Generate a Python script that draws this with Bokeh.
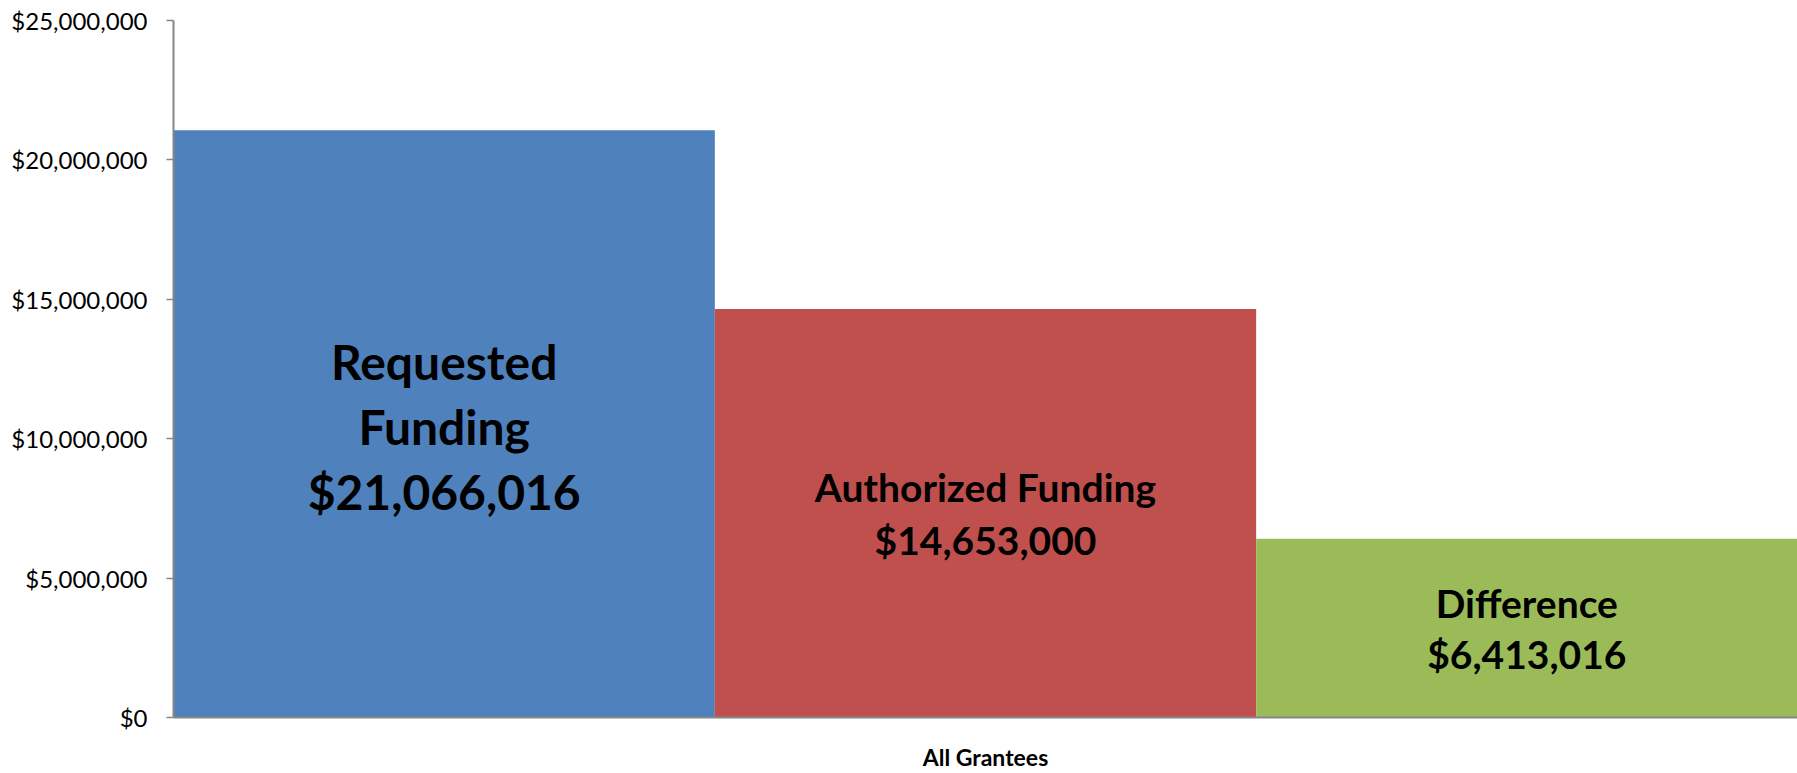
from bokeh.plotting import figure
from bokeh.models import Range1d, NumeralTickFormatter, FixedTicker, ColumnDataSource
from bokeh.core.properties import value
from bokeh.embed import file_html
from bokeh.resources import INLINE

# ---- data ----
categories = ["Requested Funding", "Authorized Funding", "Difference"]
amounts = [21066016, 14653000, 6413016]
label_lines = [["Requested", "Funding"], ["Authorized Funding"], ["Difference"]]
group_label = "All Grantees"
y_ticks = [0, 5000000, 10000000, 15000000, 20000000, 25000000]

# ---- style ----
colors = ["#4F81BD", "#C0504D", "#9BBB59"]
label_sizes = [48, 39, 39]
line_spacing = [65, 53, 51]
cap_half = [3, 0, 0]
FONT = "Lato"
AXIS_GRAY = "#868686"

n = len(amounts)
p = figure(width=1797, height=773, output_backend="svg", toolbar_location=None,
           x_range=Range1d(0, n), y_range=Range1d(0, y_ticks[-1]),
           min_border_left=173, min_border_right=0, min_border_top=20,
           min_border_bottom=55)

bars = ColumnDataSource(dict(left=list(range(n)), right=[i + 1 for i in range(n)],
                             top=amounts, bottom=[0] * n, color=colors))
p.quad(left="left", right="right", top="top", bottom="bottom", source=bars,
       fill_color="color", line_color=None)

xs, ys, texts, offs, sizes = [], [], [], [], []
for i, amt in enumerate(amounts):
    lines = label_lines[i] + ["${:,}".format(amt)]
    k = len(lines)
    for j, t in enumerate(lines):
        xs.append(i + 0.5)
        ys.append(amt / 2)
        texts.append(t)
        offs.append((j - (k - 1) / 2) * line_spacing[i] + cap_half[i])
        sizes.append(f"{label_sizes[i]}px")
lab = ColumnDataSource(dict(x=xs, y=ys, text=texts, off=offs, size=sizes))
p.text(x="x", y="y", text="text", y_offset="off", text_font_size="size", source=lab,
       text_font=value(FONT), text_font_style="bold", text_align="center",
       text_baseline="alphabetic", text_color="black")

p.xgrid.visible = False
p.ygrid.visible = False
p.outline_line_color = None

p.xaxis.ticker = FixedTicker(ticks=[n / 2])
p.xaxis.major_label_overrides = {n / 2: group_label}
p.xaxis.major_tick_line_color = None
p.xaxis.minor_tick_line_color = None
p.xaxis.major_tick_in = 0
p.xaxis.major_tick_out = 0
p.xaxis.major_label_standoff = 25
p.xaxis.major_label_text_font = FONT
p.xaxis.major_label_text_font_style = "bold"
p.xaxis.major_label_text_font_size = "23px"
p.xaxis.major_label_text_color = "black"
p.xaxis.axis_line_color = AXIS_GRAY
p.xaxis.axis_line_width = 2

p.yaxis.ticker = FixedTicker(ticks=y_ticks)
p.yaxis.formatter = NumeralTickFormatter(format="$0,0")
p.yaxis.minor_tick_line_color = None
p.yaxis.major_tick_in = 0
p.yaxis.major_tick_out = 7
p.yaxis.major_tick_line_color = AXIS_GRAY
p.yaxis.major_tick_line_width = 1.5
p.yaxis.axis_line_color = AXIS_GRAY
p.yaxis.axis_line_width = 2
p.yaxis.major_label_standoff = 19
p.yaxis.major_label_text_font = FONT
p.yaxis.major_label_text_font_size = "24px"
p.yaxis.major_label_text_color = "black"

open("out.html", "w").write(file_html(p, INLINE))
